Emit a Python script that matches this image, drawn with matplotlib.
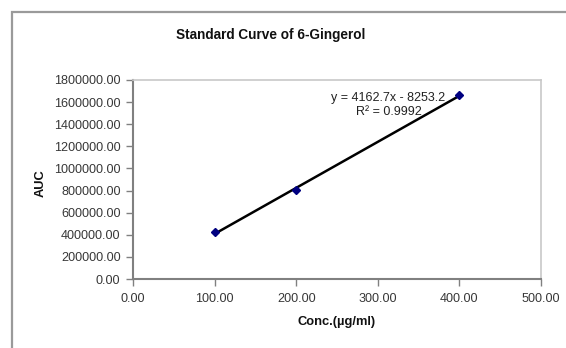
import numpy as np
import matplotlib
matplotlib.use("Agg")
import matplotlib.pyplot as plt
from matplotlib.patches import Rectangle
from matplotlib.ticker import FormatStrFormatter, MultipleLocator

plt.rcParams['font.family'] = ['Liberation Sans', 'DejaVu Sans']

conc = [100, 200, 400]
auc = [421600, 803900, 1663600]
equation_text = "y = 4162.7x - 8253.2"
r2_text = "R² = 0.9992"
title = "Standard Curve of 6-Gingerol"
xlabel = "Conc.(µg/ml)"
ylabel = "AUC"

W, H = 566, 348
fig = plt.figure(figsize=(W / 100, H / 100), dpi=100)
fig.patch.set_facecolor("white")

# outer chart frame
fig.patches.append(Rectangle((12 / W, -0.1), 1.2, 1 - 12 / H + 0.1, transform=fig.transFigure,
                             fill=False, edgecolor="#9a9a9a", linewidth=1.6))

left, right, top, bottom = 133, 541, 80, 279
ax = fig.add_axes([left / W, 1 - bottom / H, (right - left) / W, (bottom - top) / H])
ax.set_xlim(0, 500)
ax.set_ylim(0, 1800000)

slope, intercept = np.polyfit(conc, auc, 1)
xs = np.array([min(conc), max(conc)])
ax.plot(xs, slope * xs + intercept, color="black", linewidth=1.8, zorder=2)
ax.plot(conc, auc, linestyle="none", marker="D", markersize=4.5, color="#000080", zorder=3)

def px(x, y):
    return ((x - left) / (right - left) * 500, (bottom - y) / (bottom - top) * 1800000)

ax.text(*px(388, 98), equation_text, ha="center", va="center", fontsize=9, color="#222222")
ax.text(*px(389, 112), r2_text, ha="center", va="center", fontsize=9, color="#222222")

ax.xaxis.set_major_locator(MultipleLocator(100))
ax.yaxis.set_major_locator(MultipleLocator(200000))
ax.xaxis.set_major_formatter(FormatStrFormatter("%.2f"))
ax.yaxis.set_major_formatter(FormatStrFormatter("%.2f"))
ax.tick_params(axis="both", direction="out", length=5, width=1, color="#808080",
               labelsize=9.1, labelcolor="#383838", pad=4)
ax.tick_params(axis="x", pad=5)

for s in ["left", "bottom"]:
    ax.spines[s].set_color("#808080")
    ax.spines[s].set_linewidth(1.5)
for s in ["top", "right"]:
    ax.spines[s].set_color("#c8c8c8")
    ax.spines[s].set_linewidth(1.2)

fig.text(271 / W, 1 - 35 / H, title, ha="center", va="center", fontsize=9.8, fontweight="bold", color="#111111")
fig.text(337 / W, 1 - 322 / H, xlabel, ha="center", va="center", fontsize=9.3, fontweight="bold", color="#111111")
fig.text(41 / W, 1 - 183 / H, ylabel, ha="center", va="center", rotation=90, fontsize=9.3, fontweight="bold", color="#111111")

fig.savefig("out.png", dpi=100)
